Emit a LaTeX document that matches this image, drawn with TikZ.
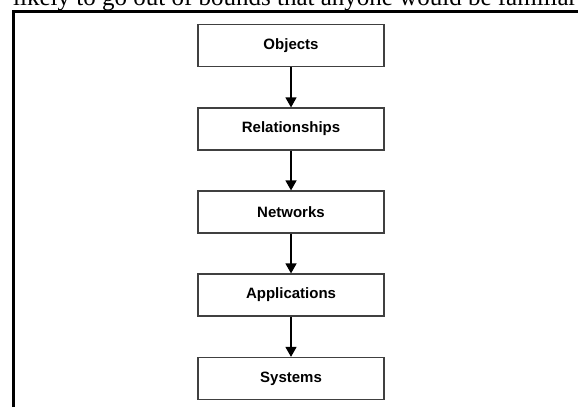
\documentclass[tikz,border=0pt]{standalone}
\usepackage{fontspec}
\setmainfont{Liberation Serif}
\setsansfont{Liberation Sans}
\usetikzlibrary{arrows.meta}

\begin{document}
\begin{tikzpicture}[stage/.style={draw=black!75,line width=1.2pt,minimum width=6.537cm,minimum height=1.476cm,inner sep=0pt,font=\sffamily\bfseries\fontsize{15}{18}\selectfont},
flow/.style={line width=1.4pt,-{Triangle[width=11pt,length=10pt]}}]
\useasboundingbox (0,0) rectangle (20.315,14.305);
\clip (0,0) rectangle (20.315,14.305);
\node[anchor=base west,inner sep=0pt,font=\fontsize{25}{30}\selectfont] (cutline) at (.457,14.112) {likely to go out of bounds that anyone would be familiar};
\draw[line width=3pt] (.492,0) -- (.492,13.918) -- (20.315,13.918);
\node[stage] (objects) at (10.228,12.705) {Objects};
\node[stage] (relationships) at (10.228,9.771) {Relationships};
\node[stage] (networks) at (10.228,6.853) {Networks};
\node[stage] (applications) at (10.228,3.936) {Applications};
\node[stage] (systems) at (10.228,1.002) {Systems};
\draw[flow] (objects) -- (relationships);
\draw[flow] (relationships) -- (networks);
\draw[flow] (networks) -- (applications);
\draw[flow] (applications) -- (systems);
\end{tikzpicture}
\end{document}
